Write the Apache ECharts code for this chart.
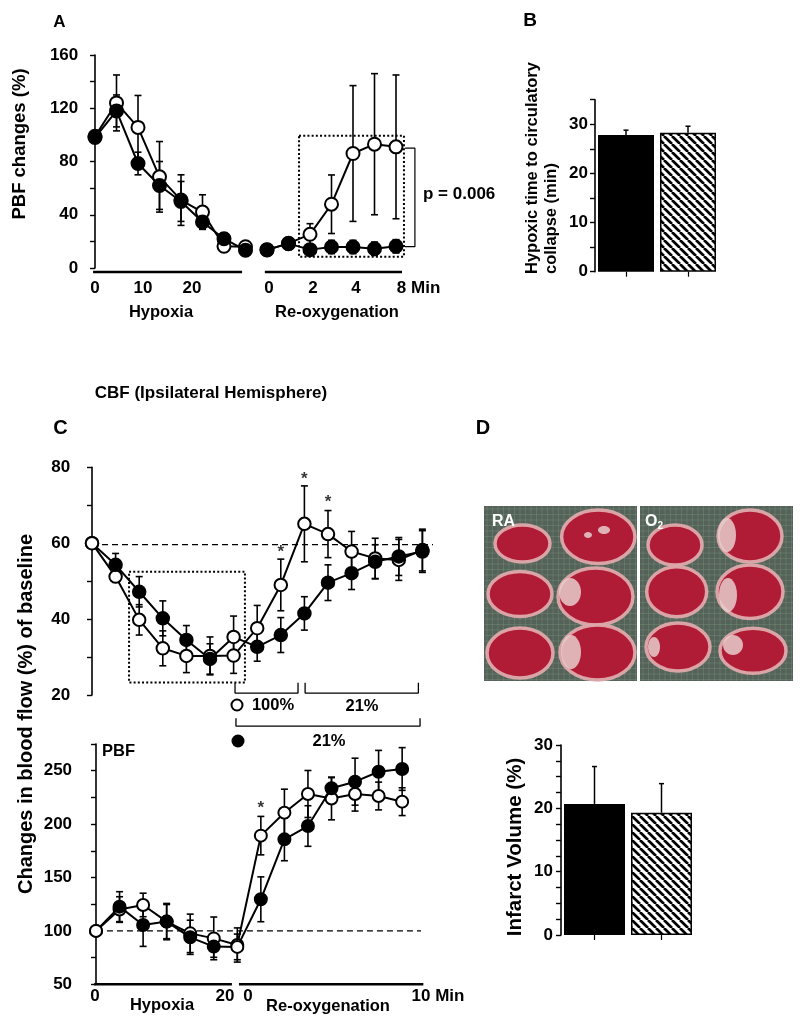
<!DOCTYPE html>
<html><head><meta charset="utf-8">
<script src="https://cdn.jsdelivr.net/npm/echarts@6/dist/echarts.min.js"></script>
<style>html,body{margin:0;padding:0;background:#fff}#c{width:800px;height:1024px}</style>
</head><body><div id="c"></div>
<script>
// ================= DATA =================
// Panel A: PBF changes (%) - hypoxia (idx 0-7) and re-oxygenation (idx 8-14)
const A_x        = [0,1,2,3,4,5,6,7, 8,9,10,11,12,13,14];
const A_open     = [99,124,105.6,68.5,51,42,16.3,16, 13.5,18.5,25.3,47.9,86,93,91];
const A_openErr  = [2,21,24,26.5,19,13,4,3, 3,4,8,22,51,53,54];
const A_black    = [98,118,78.5,62,50,34.6,22,13.3, 13.8,18.3,13.8,15.8,15.8,14.5,16.3];
const A_blackErr = [2,12,8.5,18,15,5,4.3,2.5, 3,4,4,5,5,5,5];
const A_gapAfter = 7;
const A_tickPos    = [0, 2.23, 4.51, 8.09, 10.14, 12.14, 15.05];
const A_tickLabels = ['0','10','20','0','2','4','8 Min'];
const A_axisBarHyp  = [-0.09, 6.84];
const A_axisBarReox = [7.9, 14.28];
const A_axisBarY    = -3;
const A_boxX = [9.49, 14.37], A_boxY = [8.5, 99.4];
const A_brX  = [14.42, 14.88], A_brY = [16, 90];

// Panel B: hypoxic time to circulatory collapse (min)
const B_cats  = ['RA', 'O2'];
const B_means = [27.8, 28.3];
const B_err   = [1.0, 1.3];

// Panel C (top): CBF ipsilateral hemisphere
const C_x        = [0,1,2,3,4,5,6,7,8,9,10,11,12,13,14];
const C_open     = [60,51.2,39.8,32.3,30.3,30.3,30.4,37.6,49,65.1,62.4,57.8,56,55.6,58.2];
const C_openErr  = [0.5,1.5,4,4.6,4.4,5,4.7,6,6.8,10,6.2,5.3,5.3,5.4,5.5];
const C_black    = [60,54.3,47.2,40.2,34.5,29.5,35.3,32.7,35.8,41.5,49.6,52.1,55.1,56.5,57.8];
const C_blackErr = [0.5,3,4,4.6,3.8,4,5.5,3.8,4.6,4.4,4.7,4.3,4.5,5,5.5];
const C_blackHollow = [0, 6];
const C_baseline = 59.6, C_baseX = [0, 14.45];
const C_starX = [8, 9, 10], C_starY = [58.6, 78, 71.8];
const C_boxX = [1.57, 6.48], C_boxY = [23.3, 52.5];
const C_br1X = [6.06, 8.73], C_br2X = [9.03, 13.83], C_brY = [20.5, 23.2];
const C_br3X = [6.1, 13.9], C_br3Y = [11.8, 13.9];

// Panel C (bottom): PBF
const P_x        = [0,1,2,3,4,5,6,7,8,9,10,11,12,13];
const P_open     = [100,120,124.3,108.7,97.7,93,86.8,189.2,210.7,228.2,224,228.2,226.3,221];
const P_openErr  = [1,12,11,16,18,20,16,18,22,22,20,16,13,13];
const P_black    = [100,122.7,105.5,108.7,94,85.3,85,129.6,185.7,198.2,233.5,239.7,249,251.6];
const P_blackErr = [1,14,20,17,16,10,12,21,20,19,10,22,20,20];
const P_blackHollow = [0, 6];
const P_baseline = 100, P_baseX = [0.04, 13.8];
const P_starX = [7], P_starY = [218.8];
const P_tickPos    = [-0.04, 5.48, 6.45, 14.52];
const P_tickLabels = ['0','20','0','10 Min'];
const P_axisBarHyp  = [-0.08, 5.77];
const P_axisBarReox = [6.07, 13.9];
const P_axisBarY    = 50;

// Panel D: infarct volume (%)
const D_cats  = ['RA', 'O2'];
const D_means = [20.7, 19.3];
const D_err   = [5.9, 4.6];

// ================= HELPERS =================
const FONT = 'Liberation Sans';
const BLK = '#000';
const TICK_FS = 17;

function pairs(xs, ys){ return xs.map((x,i)=>[x, ys[i]]); }
function withGap(xs, ys, gapAfter){
  const out = [];
  xs.forEach((x,i)=>{ out.push([x, ys[i]]); if (i===gapAfter) out.push([(x+xs[i+1])/2, '-']); });
  return out;
}
function hollowItems(xs, ys, hollow){
  return xs.map((x,i)=> hollow.indexOf(i) >= 0 ? {value:[x, ys[i]], itemStyle:{color:'#fff'}} : [x, ys[i]]);
}
function rectPoly(xr, yr){ return [[xr[0],yr[1]],[xr[1],yr[1]],[xr[1],yr[0]],[xr[0],yr[0]],[xr[0],yr[1]]]; }
function bracketUp(xr, yr){ return [[xr[0],yr[1]],[xr[0],yr[0]],[xr[1],yr[0]],[xr[1],yr[1]]]; }
function segs(list){ const out=[]; list.forEach((s,k)=>{ if(k) out.push([s[0][0], '-']); s.forEach(p=>out.push(p)); }); return out; }

function errRender(cw){
  return function(params, api){
    const x = api.value(0), y = api.value(1), e = api.value(2);
    const t = api.coord([x, y+e]), b = api.coord([x, y-e]);
    const st = {stroke:BLK, lineWidth:1.6};
    return {type:'group', children:[
      {type:'line', shape:{x1:t[0],y1:t[1],x2:b[0],y2:b[1]}, style:st},
      {type:'line', shape:{x1:t[0]-cw,y1:t[1],x2:t[0]+cw,y2:t[1]}, style:st},
      {type:'line', shape:{x1:b[0]-cw,y1:b[1],x2:b[0]+cw,y2:b[1]}, style:st}
    ]};
  };
}
function errUpRender(params, api){
  const c = api.value(0), m = api.value(1), e = api.value(2);
  const p0 = api.coord([c, m]), p1 = api.coord([c, m+e]);
  const st = {stroke:BLK, lineWidth:1.5};
  return {type:'group', children:[
    {type:'line', shape:{x1:p0[0],y1:p0[1],x2:p1[0],y2:p1[1]}, style:st},
    {type:'line', shape:{x1:p1[0]-2.5,y1:p1[1],x2:p1[0]+2.5,y2:p1[1]}, style:st}
  ]};
}
function stripes(){
  const c = document.createElement('canvas'); c.width = 8; c.height = 8;
  const g = c.getContext('2d');
  g.fillStyle = '#fff'; g.fillRect(0,0,8,8);
  g.strokeStyle = '#000'; g.lineWidth = 2.7; g.beginPath();
  [-8,0,8].forEach(o=>{ g.moveTo(o,0); g.lineTo(o+8,8); });
  g.stroke();
  return c;
}
const STRIPE = {image: stripes(), repeat: 'repeat'};

function yAx(gi, min, max, interval, labelEvery, margin, labelMax){
  return {type:'value', gridIndex:gi, min, max, interval,
    axisLine:{show:true, lineStyle:{color:BLK, width:1.6}},
    axisTick:{show:true, length:5, lineStyle:{color:BLK, width:1.4}},
    splitLine:{show:false},
    axisLabel:{color:BLK, fontFamily:FONT, fontWeight:'bold', fontSize:TICK_FS, margin,
      formatter: v => (Math.abs(v % labelEvery) < 1e-9 && v <= labelMax) ? String(v) : ''}};
}
function xVal(gi, min, max, pos, labels, margin){
  const ax = {type:'value', gridIndex:gi, min, max,
    axisLine:{show:false}, axisTick:{show:false}, splitLine:{show:false}};
  if (pos) {
    ax.axisLabel = {show:true, customValues: pos, margin, color:BLK, fontFamily:FONT, fontWeight:'bold', fontSize:TICK_FS,
      formatter: v => { const k = pos.indexOf(v); return k >= 0 ? labels[k] : ''; }};
  } else {
    ax.axisLabel = {show:false};
  }
  return ax;
}
function xCat(gi, cats){
  return {type:'category', gridIndex:gi, data:cats,
    axisLine:{show:false}, axisTick:{show:true, alignWithLabel:true, length:5, lineStyle:{color:BLK, width:1.2}},
    axisLabel:{show:false}, splitLine:{show:false}};
}

function lineSeries(ax, data, filled, size, extra){
  return Object.assign({type:'line', xAxisIndex:ax, yAxisIndex:ax, data,
    symbol:'circle', symbolSize:size, showSymbol:true, showAllSymbol:true,
    lineStyle:{color:BLK, width:2},
    itemStyle:{color: filled ? BLK : '#fff', borderColor:BLK, borderWidth:2, opacity:1},
    emphasis:{disabled:true}, z: filled ? 4 : 3}, extra||{});
}
function plainLine(ax, data, width, type, z){
  return {type:'line', xAxisIndex:ax, yAxisIndex:ax, data, symbol:'none', clip:false,
    lineStyle:{color:BLK, width, type: type || 'solid'}, emphasis:{disabled:true}, z: z||2, silent:true};
}
function errSeries(ax, xs, ys, es, cw){
  return {type:'custom', xAxisIndex:ax, yAxisIndex:ax, renderItem: errRender(cw),
    data: xs.map((x,i)=>[x, ys[i], es[i]]), encode:{x:0, y:1}, z:2, silent:true};
}
function starSeries(ax, xs, ys){
  return {type:'scatter', xAxisIndex:ax, yAxisIndex:ax, data: pairs(xs, ys), clip:false,
    symbolSize:1, itemStyle:{color:'rgba(0,0,0,0)'}, silent:true, z:5,
    label:{show:true, position:'inside', formatter:'*', color:BLK, fontFamily:FONT, fontWeight:'bold', fontSize:17, offset:[0,4]}};
}
function barSeries(ax, means, errs, width){
  const styles = [{color:BLK, borderColor:BLK, borderWidth:1.5}, {color:STRIPE, borderColor:BLK, borderWidth:1.5}];
  return [
    {type:'bar', xAxisIndex:ax, yAxisIndex:ax, barWidth:width, silent:true,
      data: means.map((m,i)=>({value:m, itemStyle:styles[i]}))},
    {type:'custom', xAxisIndex:ax, yAxisIndex:ax, renderItem: errUpRender, silent:true, z:3,
      data: means.map((m,i)=>[i, m, errs[i]]), encode:{x:0, y:1}}
  ];
}

// ================= TEXT / DECOR =================
function T(x, y, s, size, o){
  o = o || {};
  const el = {type:'text', x, y, silent:true, style:{text:s, fontFamily:FONT, fontWeight:'bold', fontSize:size,
    fill:o.fill||BLK, align:o.align||'center', textAlign:o.align||'center',
    verticalAlign:'middle', textVerticalAlign:'middle', lineHeight:o.lh||undefined}};
  if (o.rot) el.rotation = o.rot;
  if (o.rich) el.style.rich = o.rich;
  return el;
}
const R90 = Math.PI/2;
const graphics = [
  T(59.5, 22.5, 'A', 17),
  T(530, 20.5, 'B', 19),
  T(211, 393, 'CBF (Ipsilateral Hemisphere)', 17),
  T(60.5, 428, 'C', 20),
  T(483, 428, 'D', 20),
  T(20, 144, 'PBF changes (%)', 18.5, {rot:R90}),
  T(541.5, 274, 'Hypoxic time to circulatory\ncollapse (min)', 16.5, {rot:R90, align:'left', lh:19}),
  T(161, 312, 'Hypoxia', 16.5),
  T(337, 312, 'Re-oxygenation', 16.5),
  T(423, 194, 'p = 0.006', 17, {align:'left'}),
  T(26, 714, 'Changes in blood flow (%) of baseline', 20, {rot:R90}),
  T(273, 705, '100%', 16.5),
  T(362, 706, '21%', 16.5),
  T(329, 741, '21%', 16.5),
  {type:'circle', shape:{cx:237, cy:705, r:5.5}, style:{fill:'#fff', stroke:BLK, lineWidth:2}, silent:true},
  {type:'circle', shape:{cx:238, cy:741, r:6.5}, style:{fill:BLK}, silent:true},
  T(102, 751, 'PBF', 16.5, {align:'left'}),
  T(162, 1005, 'Hypoxia', 16.5),
  T(328, 1006, 'Re-oxygenation', 16.5),
  T(515, 847, 'Infarct Volume (%)', 20.5, {rot:R90})
];

// photo of stained brain slices (panel D), drawn as shapes
(function(){
  const panels = [484, 640], top = 506, w = 153, h = 175;
  panels.forEach(x0=>{
    graphics.push({type:'rect', shape:{x:x0, y:top, width:w, height:h}, style:{fill:'#55625a'}, silent:true});
    for (let x = x0 + 3; x < x0 + w; x += 5.5)
      graphics.push({type:'line', shape:{x1:x, y1:top, x2:x, y2:top+h}, style:{stroke:'rgba(125,160,125,0.4)', lineWidth:0.8}, silent:true});
    for (let y = top + 3; y < top + h; y += 5.5)
      graphics.push({type:'line', shape:{x1:x0, y1:y, x2:x0+w, y2:y}, style:{stroke:'rgba(125,160,125,0.4)', lineWidth:0.8}, silent:true});
  });
  const slices = [
    [522.5,543.5,27.5,18.5],[598.3,536.7,36.7,26.7],[520,594,32,22.5],[595.5,596.5,37.5,28.5],[520,653,33,25],[597.5,652.5,37.5,27.5],
    [675,545,27,20],[750,536,32,26],[676.7,591.7,30,25],[750,591.7,33,26.7],[678,647,32,24],[753,650.7,33,22.5]
  ];
  slices.forEach(s=>graphics.push({type:'ellipse', shape:{cx:s[0], cy:s[1], rx:s[2], ry:s[3]},
    style:{fill:'#b01c36', stroke:'rgba(222,170,172,0.95)', lineWidth:3.5}, silent:true}));
  const pale = [
    [570,592,11,14],[571,652,10,17],[604,530,6,4],[588,535,4,3],
    [727,535,9,17],[728,595,9,17],[733,645,10,10],[654,647,6,10]
  ];
  pale.forEach(s=>graphics.push({type:'ellipse', shape:{cx:s[0], cy:s[1], rx:s[2], ry:s[3]},
    style:{fill:'rgba(232,206,204,0.85)'}, silent:true}));
  graphics.push(T(492, 522, 'RA', 16, {align:'left', fill:'#fff'}));
  graphics.push(T(645, 522, 'O{s|2}', 16, {align:'left', fill:'#fff',
    rich:{s:{fontSize:10, fontFamily:FONT, fontWeight:'bold', fill:'#fff', padding:[8,0,0,0]}}}));
})();

// ================= OPTION =================
const option = {
  animation:false,
  backgroundColor:'#fff',
  grid:[
    {left:84.25, top:55,    width:365.5, height:213,   outerBoundsMode:'none'},  // A
    {left:595,   top:99.7,  width:124,   height:172,   outerBoundsMode:'none'},  // B
    {left:80.2,  top:467.3, width:365.8, height:227.7, outerBoundsMode:'none'},  // C top
    {left:83.05, top:744,   width:366.2, height:240.3, outerBoundsMode:'none'},  // C bottom
    {left:561,   top:745,   width:134,   height:190,   outerBoundsMode:'none'}   // D
  ],
  xAxis:[
    xVal(0, -0.5, 16.5, A_tickPos, A_tickLabels, 12),
    xCat(1, B_cats),
    xVal(2, -0.5, 15, null),
    xVal(3, -0.55, 15, P_tickPos, P_tickLabels, 4),
    xCat(4, D_cats)
  ],
  yAxis:[
    yAx(0, 0, 160, 20, 40, 6, 160),
    yAx(1, 0, 35, 5, 10, 7, 30),
    yAx(2, 20, 80, 10, 20, 10, 80),
    yAx(3, 50, 275, 25, 50, 11, 250),
    yAx(4, 0, 30, 2.5, 10, 8, 30)
  ],
  series:[
    // ---- A ----
    errSeries(0, A_x, A_open, A_openErr, 3.5),
    errSeries(0, A_x, A_black, A_blackErr, 3.5),
    lineSeries(0, withGap(A_x, A_open, A_gapAfter), false, 13),
    lineSeries(0, withGap(A_x, A_black, A_gapAfter), true, 13),
    plainLine(0, segs([[[A_axisBarHyp[0],A_axisBarY],[A_axisBarHyp[1],A_axisBarY]],
                       [[A_axisBarReox[0],A_axisBarY],[A_axisBarReox[1],A_axisBarY]]]), 2.5),
    plainLine(0, rectPoly(A_boxX, A_boxY), 2, [2,2.2], 1),
    plainLine(0, [[A_brX[0],A_brY[1]],[A_brX[1],A_brY[1]],[A_brX[1],A_brY[0]],[A_brX[0],A_brY[0]]], 1.2),
    // ---- B ----
    ...barSeries(1, B_means, B_err, 56),
    // ---- C top ----
    plainLine(2, [[C_baseX[0],C_baseline],[C_baseX[1],C_baseline]], 1.2, [6,4], 1),
    plainLine(2, rectPoly(C_boxX, C_boxY), 2, [2,2.2], 1),
    errSeries(2, C_x, C_open, C_openErr, 3.5),
    errSeries(2, C_x, C_black, C_blackErr, 3.5),
    lineSeries(2, pairs(C_x, C_open), false, 12.5),
    lineSeries(2, hollowItems(C_x, C_black, C_blackHollow), true, 12.5),
    starSeries(2, C_starX, C_starY),
    plainLine(2, segs([bracketUp(C_br1X, C_brY), bracketUp(C_br2X, C_brY), bracketUp(C_br3X, C_br3Y)]), 1.3),
    // ---- C bottom (PBF) ----
    plainLine(3, [[P_baseX[0],P_baseline],[P_baseX[1],P_baseline]], 1.2, [6,4], 1),
    errSeries(3, P_x, P_open, P_openErr, 3.5),
    errSeries(3, P_x, P_black, P_blackErr, 3.5),
    lineSeries(3, pairs(P_x, P_open), false, 12),
    lineSeries(3, hollowItems(P_x, P_black, P_blackHollow), true, 12),
    starSeries(3, P_starX, P_starY),
    plainLine(3, segs([[[P_axisBarHyp[0],P_axisBarY],[P_axisBarHyp[1],P_axisBarY]],
                       [[P_axisBarReox[0],P_axisBarY],[P_axisBarReox[1],P_axisBarY]]]), 2.5),
    // ---- D ----
    ...barSeries(4, D_means, D_err, 61)
  ],
  graphic: graphics
};

const chart = echarts.init(document.getElementById('c'), null, {renderer:'canvas', width:800, height:1024});
chart.setOption(option);
</script>
</body></html>
